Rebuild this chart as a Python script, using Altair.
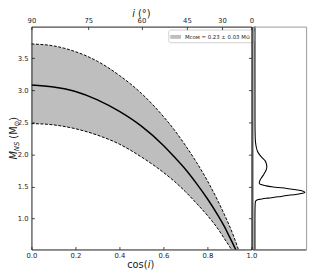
import altair as alt
import numpy as np
import pandas as pd

# ---- data ----
cos_i = [0.0, 0.1, 0.2, 0.3, 0.4, 0.5, 0.6, 0.65, 0.7, 0.75, 0.8, 0.85, 0.875, 0.9, 0.92, 0.94, 0.96]
m_central = [3.08, 3.05, 2.98, 2.85, 2.67, 2.44, 2.14, 1.96, 1.77, 1.55, 1.31, 1.04, 0.89, 0.72, 0.58, 0.43, 0.26]
m_upper = [3.72, 3.69, 3.60, 3.45, 3.23, 2.95, 2.59, 2.38, 2.14, 1.88, 1.59, 1.26, 1.08, 0.89, 0.72, 0.53, 0.33]
m_lower = [2.48, 2.46, 2.40, 2.30, 2.16, 1.96, 1.72, 1.58, 1.42, 1.24, 1.05, 0.83, 0.70, 0.57, 0.46, 0.34, 0.20]

mass_pdf = [0.52, 1.00, 1.20, 1.24, 1.27, 1.29, 1.30, 1.32, 1.34, 1.36, 1.38, 1.41, 1.43, 1.45, 1.47,
            1.49, 1.51, 1.53, 1.55, 1.60, 1.65, 1.70, 1.75, 1.80, 1.85, 1.90, 1.95, 2.00, 2.05,
            2.10, 2.20, 2.35, 2.60, 3.99]
density = [0.0, 0.0, 0.003, 0.006, 0.012, 0.04, 0.085, 0.25, 0.45, 0.62, 0.82, 0.975, 0.93, 0.80, 0.62,
           0.40, 0.22, 0.12, 0.085, 0.10, 0.14, 0.18, 0.215, 0.232, 0.225, 0.20, 0.14, 0.085, 0.05,
           0.03, 0.01, 0.003, 0.001, 0.0]

x_ticks = [0.0, 0.2, 0.4, 0.6, 0.8, 1.0]
y_ticks = [1.0, 1.5, 2.0, 2.5, 3.0, 3.5]
incl_ticks = [90, 75, 60, 45, 30, 0]
legend_label = "Mᴄᴏᴍ = 0.23 ± 0.03 M⊙"

# ---- layout ----
W_MAIN = 225
SIDE0 = 226
W = 281
H = 228
YDOM = [0.52, 3.99]
FONT = "DejaVu Sans"
INK = "#1a1a1a"

main = pd.DataFrame(dict(c=cos_i, mid=m_central, up=m_upper, lo=m_lower, s=[legend_label] * len(cos_i)))
side = pd.DataFrame(dict(m=mass_pdf, d=density))
one = pd.DataFrame({"k": [0]})

top_pos = [float(np.cos(np.radians(d))) for d in incl_ticks]

xs = alt.Scale(domain=[0, 1], range=[0, W_MAIN], nice=False, zero=False)
ys = alt.Scale(domain=YDOM, nice=False, zero=False)
sxs = alt.Scale(domain=[-0.05, 1.0], range=[SIDE0, W], nice=False, zero=False)

inward = {"expr": "-3"}
common = dict(labelFont=FONT, labelFontSize=7, labelColor=INK, tickColor=INK,
              domainColor=INK, tickWidth=0.8, domainWidth=1, labelFlush=False,
              labelOverlap=False, zindex=2, grid=False, title=None)
bare = dict(labels=False, ticks=False, grid=False, title=None, domainWidth=1, zindex=2)

band = alt.Chart(main).mark_area(interpolate="monotone", clip=True).encode(
    x=alt.X("c:Q", scale=xs, axis=alt.Axis(orient="bottom", values=x_ticks, format=".1f",
                                           tickSize=inward, labelPadding=5, **common)),
    y=alt.Y("up:Q", scale=ys, axis=alt.Axis(orient="left", values=y_ticks, format=".1f",
                                            tickSize=inward, labelPadding=6.4, **common)),
    y2="lo:Q",
    fill=alt.Fill("s:N", scale=alt.Scale(range=["#bebebe"]),
                  legend=alt.Legend(orient="none", legendX=140, legendY=3, title=None,
                                    symbolType="M-1,-0.36L1,-0.36L1,0.36L-1,0.36Z",
                                    symbolSize=121, symbolStrokeWidth=0, labelFontSize=5.5,
                                    labelFont=FONT, labelColor=INK, labelOffset=4, padding=2,
                                    fillColor="white", strokeColor="#d0d0d0", cornerRadius=2)),
)

upper = alt.Chart(main).mark_line(color="black", strokeWidth=1, strokeDash=[3, 1.6],
                                  interpolate="monotone", clip=True).encode(
    x=alt.X("c:Q", scale=xs, axis=alt.Axis(orient="top", values=top_pos,
                                           labelExpr="format(round(acos(datum.value)*180/PI),'d')",
                                           tickSize=inward, labelPadding=6, **common)),
    y=alt.Y("up:Q", scale=ys, axis=None),
)

lower = alt.Chart(main).mark_line(color="black", strokeWidth=1, strokeDash=[3, 1.6],
                                  interpolate="monotone", clip=True).encode(
    x=alt.X("c:Q", scale=xs, axis=None),
    y=alt.Y("lo:Q", scale=ys, axis=alt.Axis(orient="left", offset=-W_MAIN, values=y_ticks,
                                            labels=False, tickSize=3, tickColor=INK, tickWidth=0.8,
                                            domainColor=INK, domainWidth=1, grid=False,
                                            title=None, zindex=2)),
)

central = alt.Chart(main).mark_line(color="black", strokeWidth=1.5,
                                    interpolate="monotone", clip=True).encode(
    x=alt.X("c:Q", scale=xs, axis=None),
    y=alt.Y("mid:Q", scale=ys, axis=alt.Axis(orient="left", offset=-SIDE0,
                                             domainColor=INK, **bare)),
)

side_line = alt.Chart(side).mark_line(color="black", strokeWidth=1.1,
                                      interpolate="catmull-rom").encode(
    x=alt.X("d:Q", scale=sxs, axis=alt.Axis(orient="bottom", domainColor=INK, **bare)),
    y=alt.Y("m:Q", scale=ys, axis=alt.Axis(orient="right", domainColor="#9a9a9a", **bare)),
    order="m:Q",
)

side_top = alt.Chart(side).mark_line(opacity=0).encode(
    x=alt.X("d:Q", scale=sxs, axis=alt.Axis(orient="top", domainColor="#9a9a9a", **bare)),
    y=alt.Y("m:Q", scale=ys, axis=None),
    order="m:Q",
)


def txt(s, x, y, size=10, italic=False, angle=0, align="left"):
    kw = dict(text=s, font=FONT, fontSize=size, align=align, baseline="alphabetic", color=INK)
    if italic:
        kw["fontStyle"] = "italic"
    if angle:
        kw["angle"] = angle
    return alt.Chart(one).mark_text(**kw).encode(x=alt.value(x), y=alt.value(y))


YT = -15.0  # baseline of the rotated y title
texts = [
    # x title cos(i)
    txt("cos(", 118.7, 247, align="right"),
    txt("i", 118.9, 247, italic=True),
    txt(")", 121.7, 247),
    # top title i (°)
    txt("i", 103, -10.3, italic=True),
    txt("(°)", 109, -10.3),
    # y title M_NS (M_sun)
    txt("M", YT, 136, italic=True, angle=270),
    txt("NS", YT + 2, 127.4, size=7, italic=True, angle=270),
    txt("(M", YT, 114.6, angle=270),
    txt("⊙", YT + 2, 102.1, size=7, angle=270),
    txt(")", YT, 96.2, angle=270),
]

chart = alt.layer(band, upper, lower, central, side_line, side_top, *texts).resolve_scale(
    x="independent", y="independent"
).resolve_axis(
    x="independent", y="independent"
).properties(
    width=W, height=H,
    autosize=alt.AutoSizeParams(type="none"),
    padding={"left": 24, "top": 16, "right": 6, "bottom": 20},
).configure_view(stroke=None)

chart.save("out.html", embed_options={"renderer": "svg", "actions": False})
